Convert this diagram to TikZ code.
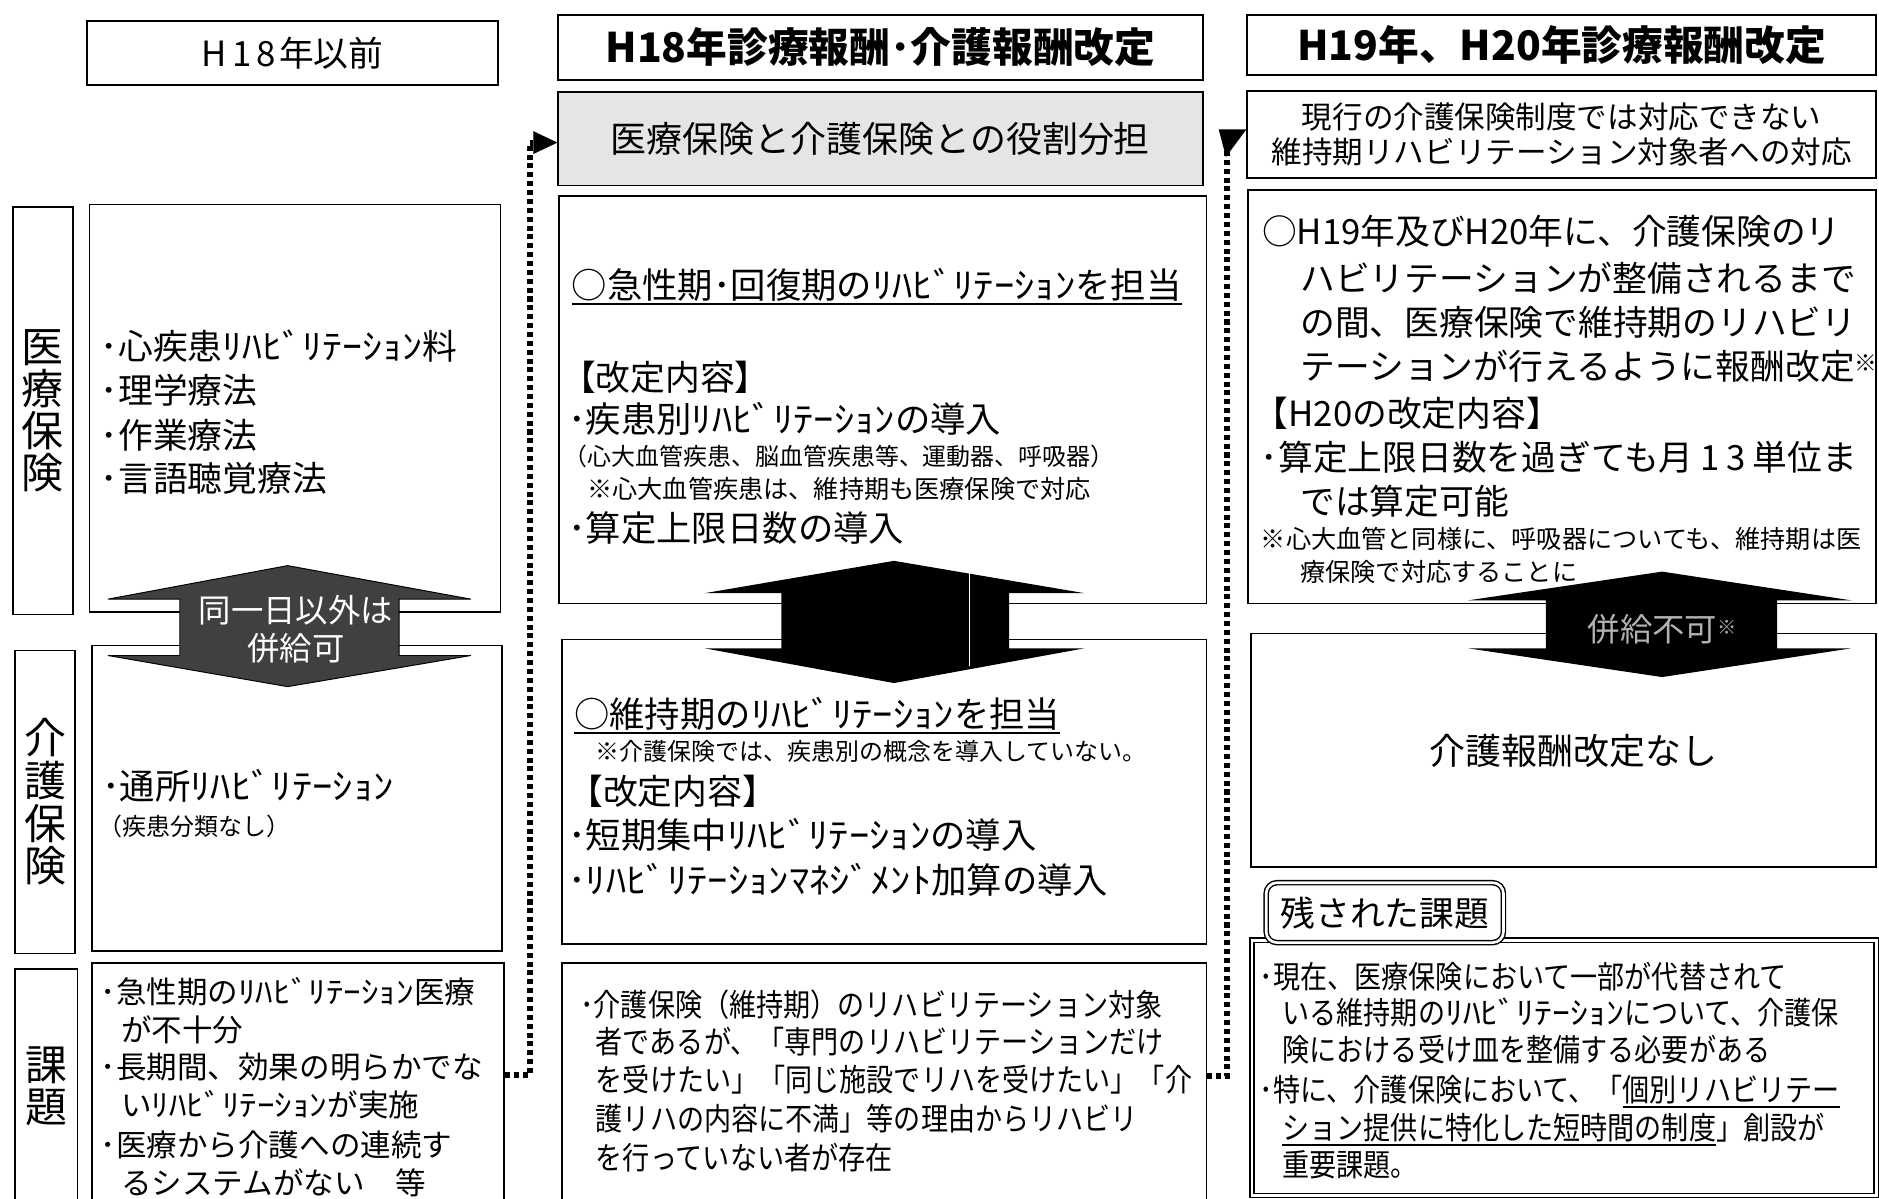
\documentclass[tikz,border=0pt]{standalone}
\usepackage{fontspec}
\setmainfont{Noto Sans CJK JP}
\newfontfamily\jpc{Noto Sans CJK JP}[FakeStretch=0.87]
\newfontfamily\hkf{Noto Sans CJK JP}[FakeStretch=1.15]
\usetikzlibrary{arrows.meta}
\newcommand\fs[1]{\fontsize{#1}{#1}\selectfont}
\newcommand\hk[1]{{\hkf #1}}
\newcommand\ul[1]{\vtop{\hbox{#1}\kern1.5pt\hrule height1.6pt}}
\begin{document}
\begin{tikzpicture}[x=1pt,y=-1pt,
 box/.style={draw,line width=1.4pt,inner sep=0pt,anchor=north west},
 txt/.style={anchor=base west,inner sep=0pt},
 dotline/.style={line width=5pt,dash pattern=on 4.2pt off 3.2pt}]
\useasboundingbox (0,0) rectangle (1568,1000);
\fill[white] (0,0) rectangle (1568,1000);

% ---------------- column 1 ----------------
\node[box,minimum width=343,minimum height=53,font=\fs{29}] (h1) at (72,17) {H\hspace{4pt}1\hspace{4pt}8\hspace{3pt}年以前};
\node[box,minimum width=50,minimum height=340,align=center,font=\fontsize{35}{35}\selectfont] (lab1) at (10,172) {医\\療\\保\\険};
\node[box,minimum width=343,minimum height=340] (b11) at (74,170) {};
\node[txt,font=\fs{29}] (t11) at (84,300) {･心疾患\hk{ﾘﾊﾋﾞﾘﾃｰｼｮﾝ}料};
\node[txt,font=\fs{29}] (t12) at (84,337) {･理学療法};
\node[txt,font=\fs{29}] (t13) at (84,374) {･作業療法};
\node[txt,font=\fs{29}] (t14) at (84,410) {･言語聴覚療法};

\node[box,minimum width=50,minimum height=253,align=center,font=\fontsize{35}{35.5}\selectfont] (lab2) at (12,542) {介\\護\\保\\険};
\node[box,minimum width=342,minimum height=255] (b12) at (76,538) {};
\node[txt,font=\fs{29.5}] (t15) at (85,667) {･通所\hk{ﾘﾊﾋﾞﾘﾃｰｼｮﾝ}};
\node[txt,font=\fs{20}] (t16) at (82,697.5) {（疾患分類なし）};

\node[box,minimum width=52,minimum height=196,align=center,font=\fontsize{35}{35}\selectfont] (lab3) at (12,808) {課\\題};
\node[box,minimum width=344,minimum height=200] (b13) at (76,803) {};
\node[txt,font=\fs{25.5}] (t17) at (84,837) {･急性期の\hk{ﾘﾊﾋﾞﾘﾃｰｼｮﾝ}医療};
\node[txt,font=\fs{25.5}] (t18) at (101,869) {が不十分};
\node[txt,font=\fs{25.5}] (t19) at (84,900) {･長期間、効果の明らかでな};
\node[txt,font=\fs{25.5}] (t1a) at (101,932) {い\hk{ﾘﾊﾋﾞﾘﾃｰｼｮﾝ}が実施};
\node[txt,font=\fs{25.5}] (t1b) at (84,965) {･医療から介護への連続す};
\node[txt,font=\fs{25.5}] (t1c) at (101,997) {るシステムがない　等};

% ---------------- column 2 ----------------
\node[box,minimum width=538,minimum height=54,font=\bfseries\fs{34}] (h2) at (465,12) {H18年診療報酬･介護報酬改定};
\node[box,fill=black!10,minimum width=538,minimum height=78,font=\fs{30}] (s2) at (465,76) {医療保険と介護保険との役割分担};
\node[box,minimum width=540,minimum height=340] (b2a) at (466,163) {};
\node[txt,font=\fs{29.5}] (t21) at (477,249) {\ul{○急性期･回復期の\hk{ﾘﾊﾋﾞﾘﾃｰｼｮﾝ}を担当}};
\node[txt,font=\fs{29}] (t22) at (468,326) {【改定内容】};
\node[txt,font=\fs{29.5}] (t23) at (474,361) {･疾患別\hk{ﾘﾊﾋﾞﾘﾃｰｼｮﾝ}の導入};
\node[txt,font=\fs{20}] (t24) at (470,388.6) {（心大血管疾患、脳血管疾患等、運動器、呼吸器）};
\node[txt,font=\fs{21}] (t25) at (490,416) {※心大血管疾患は、維持期も医療保険で対応};
\node[txt,font=\fs{29.5}] (t26) at (474,452) {･算定上限日数の導入};

\node[box,minimum width=538,minimum height=254] (b2b) at (468,533) {};
\node[txt,font=\fs{29.5}] (t27) at (479,607) {\ul{○維持期の\hk{ﾘﾊﾋﾞﾘﾃｰｼｮﾝ}を担当}};
\node[txt,font=\fs{20}] (t28) at (497,634.6) {※介護保険では、疾患別の概念を導入していない。};
\node[txt,font=\fs{29}] (t29) at (474,671) {【改定内容】};
\node[txt,font=\fs{29.5}] (t2a) at (474,708) {･短期集中\hk{ﾘﾊﾋﾞﾘﾃｰｼｮﾝ}の導入};
\node[txt,font=\fs{29.5}] (t2b) at (474,746) {･\hk{ﾘﾊﾋﾞﾘﾃｰｼｮﾝﾏﾈｼﾞﾒﾝﾄ}加算の導入};

\node[box,minimum width=538,minimum height=200] (b2c) at (468,803) {};
\node[txt,font=\jpc\fs{26}] (t2c) at (484,848) {･介護保険（維持期）のリハビリテーション対象};
\node[txt,font=\jpc\fs{26}] (t2d) at (497,879) {者であるが、「専門のリハビリテーションだけ};
\node[txt,font=\jpc\fs{26}] (t2e) at (497,911) {を受けたい」「同じ施設でリハを受けたい」「介};
\node[txt,font=\jpc\fs{26}] (t2f) at (497,943) {護リハの内容に不満」等の理由からリハビリ};
\node[txt,font=\jpc\fs{26}] (t2g) at (497,976) {を行っていない者が存在};

% ---------------- column 3 ----------------
\node[box,minimum width=525,minimum height=50,font=\bfseries\fs{34}] (h3) at (1040,12) {H19年、H20年診療報酬改定};
\node[box,minimum width=525,minimum height=73,align=center,font=\fontsize{25.5}{30}\selectfont] (s3) at (1040,75) {現行の介護保険制度では対応できない\\維持期リハビリテーション対象者への対応};
\node[box,minimum width=524,minimum height=345] (b3a) at (1041,158) {};
\node[txt,font=\fs{29}] (t31) at (1053,204) {○H19年及びH20年に、介護保険のリ};
\node[txt,font=\fs{29}] (t32) at (1085,243) {ハビリテーションが整備されるまで};
\node[txt,font=\fs{29}] (t33) at (1085,280) {の間、医療保険で維持期のリハビリ};
\node[txt,font=\fs{29}] (t34) at (1085,317) {テーションが行えるように報酬改定\raisebox{7pt}{\fs{19}※}};
\node[txt,font=\fs{29}] (t35) at (1046,356) {【H20の改定内容】};
\node[txt,font=\fs{29}] (t36) at (1052,393) {･算定上限日数を過ぎても月\hspace{6pt}1\hspace{5pt}3\hspace{6pt}単位ま};
\node[txt,font=\fs{29}] (t37) at (1085,429) {では算定可能};
\node[txt,font=\fs{21}] (t38) at (1052,458) {※心大血管と同様に、呼吸器についても、維持期は医};
\node[txt,font=\fs{21}] (t39) at (1085,485) {療保険で対応することに};

\node[box,minimum width=522,minimum height=195] (b3b) at (1043,528) {};
\node[font=\fs{30},inner sep=0pt] (t3a) at (1313,627) {介護報酬改定なし};

\node[box,double,double distance=2.2pt,line width=1.3pt,minimum width=521,minimum height=213] (b3c) at (1044,784) {};
\node[draw,double,double distance=2.2pt,line width=1.2pt,rounded corners=9pt,fill=white,inner sep=0pt,
      minimum width=198,minimum height=50,anchor=north west,font=\fs{29}] (tag) at (1056,736) {残された課題};
\node[txt,font=\jpc\fs{26}] (t3b) at (1051,825) {･現在、医療保険において一部が代替されて};
\node[txt,font=\jpc\fs{26}] (t3c) at (1070,855) {いる維持期の\hk{ﾘﾊﾋﾞﾘﾃｰｼｮﾝ}について、介護保};
\node[txt,font=\jpc\fs{26}] (t3d) at (1070,886) {険における受け皿を整備する必要がある};
\node[txt,font=\jpc\fs{26}] (t3e) at (1051,919) {･特に、介護保険において、「\ul{個別リハビリテー}};
\node[txt,font=\jpc\fs{26}] (t3f) at (1070,951) {\ul{ション提供に特化した短時間の制度}」創設が};
\node[txt,font=\jpc\fs{26}] (t3g) at (1070,982) {重要課題。};

% ---------------- double arrows ----------------
\filldraw[fill=black!75,draw=black,line width=0.8pt]
  (240,472) -- (393,500) -- (333,500) -- (333,547) -- (393,547) -- (240,573)
  -- (90,547) -- (150,547) -- (150,500) -- (90,500) -- cycle;
\node[align=center,text=white,font=\fontsize{27}{32}\selectfont,inner sep=0pt] (ar1) at (247,525) {同一日以外は\\併給可};

\fill[black]
  (746,468) -- (905,495) -- (842,495) -- (842,541) -- (905,541) -- (746,570)
  -- (588,541) -- (652,541) -- (652,495) -- (588,495) -- cycle;
\draw[white,line width=1.2pt] (809,478) -- (809,556);

\fill[black]
  (1387,477) -- (1545,501) -- (1483,501) -- (1483,541) -- (1545,541) -- (1387,565)
  -- (1225,541) -- (1290,541) -- (1290,501) -- (1225,501) -- cycle;
\node[text=white!70!black,font=\fs{27},inner sep=0pt] (ar3) at (1387,525) {併給不可\raisebox{6pt}{\fs{16}※}};

% ---------------- dotted connectors ----------------
\coordinate (k1) at (442,897);
\coordinate (k2) at (442,119);
\draw[dotline,-{Triangle[length=20pt,width=19pt,line width=0.1pt]}] (b13.east |- k1) -- (k1) -- (k2) -- (s2.west |- k2);

\coordinate (k3) at (1024,898);
\coordinate (k4) at (1024,126);
\draw[dotline] (b2c.east |- k3) -- (k3) -- (k4);
\fill[black] (1017,108) -- (s3.west |- 0,108) -- (1023,131) -- cycle;
\end{tikzpicture}
\end{document}
